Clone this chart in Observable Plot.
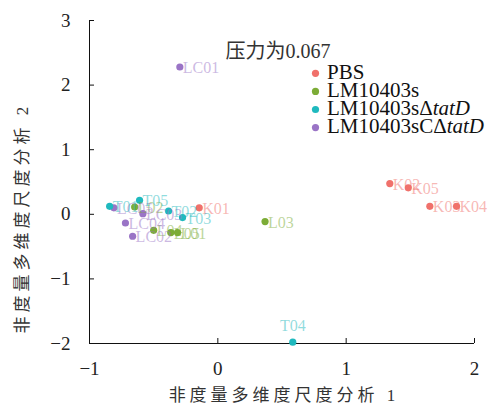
<!DOCTYPE html>
<html><head><meta charset="utf-8">
<script src="https://cdn.jsdelivr.net/npm/d3@7"></script>
<script src="https://cdn.jsdelivr.net/npm/@observablehq/plot@0.6"></script>
<style>body{margin:0;background:#fff} #chart{position:relative;width:495px;height:414px}</style>
</head><body><div id="chart"></div>
<script>
const groups = ["PBS", "LM10403s", "LM10403sΔtatD", "LM10403sCΔtatD"];
const groupColors = ["#F0716B", "#7CAC36", "#1FB9BE", "#9A74C6"];
const sampleLabels = ["K01","K02","K03","K04","K05","L01","L02","L03","L04","L05","LC01","LC02","LC03","LC04","LC05","T01","T02","T03","T04","T05"];
const sampleGroups = ["PBS","PBS","PBS","PBS","PBS","LM10403s","LM10403s","LM10403s","LM10403s","LM10403s","LM10403sCΔtatD","LM10403sCΔtatD","LM10403sCΔtatD","LM10403sCΔtatD","LM10403sCΔtatD","LM10403sΔtatD","LM10403sΔtatD","LM10403sΔtatD","LM10403sΔtatD","LM10403sΔtatD"];
const dim1 = [-0.145, 1.34, 1.652, 1.86, 1.484, -0.314, -0.648, 0.368, -0.50, -0.366, -0.296, -0.664, -0.584, -0.72, -0.81, -0.843, -0.384, -0.275, 0.584, -0.61];
const dim2 = [0.10, 0.475, 0.124, 0.124, 0.41, -0.283, 0.113, -0.113, -0.248, -0.283, 2.28, -0.34, 0.01, -0.135, 0.10, 0.124, 0.051, -0.051, -1.98, 0.217];
const xTicks = [-1, 0, 1, 2];
const yTicks = [-2, -1, 0, 1, 2, 3];
const title = "压力为0.067";
const xTitle = "非度量多维度尺度分析 1";
const yTitle = "非度量多维度尺度分析 2";
const aboveLabels = ["T04"];

const data = sampleLabels.map((s, i) => ({label: s, group: sampleGroups[i], x: dim1[i], y: dim2[i]}));
const font = "'Liberation Serif', 'Noto Sans CJK SC', serif";
const fmt = d => d < 0 ? "\u2212" + Math.abs(d) : String(d);

const svg = Plot.plot({
  width: 495, height: 414,
  marginLeft: 89, marginRight: 21, marginTop: 20, marginBottom: 71,
  style: {fontFamily: font, background: "#fff"},
  x: {domain: [-1, 2]},
  y: {domain: [-2, 3]},
  color: {domain: groups, range: groupColors},
  marks: [
    Plot.ruleY([-2], {stroke: "#111"}),
    Plot.ruleX([-1], {stroke: "#111"}),
    Plot.ruleX(xTicks, {x: d => d, y1: -2, y2: -2, insetTop: -5, stroke: "#111"}),
    Plot.ruleY(yTicks, {y: d => d, x1: -1, x2: -1, insetRight: -5, stroke: "#111"}),
    Plot.axisX({ticks: xTicks, tickSize: 0, tickPadding: 18, fontSize: 19, tickFormat: fmt, label: null, fill: "#222"}),
    Plot.axisY({ticks: yTicks, tickSize: 0, tickPadding: 19, fontSize: 19, tickFormat: fmt, label: null, fill: "#222"}),
    Plot.dot(data, {x: "x", y: "y", fill: "group", r: 3.6}),
    Plot.text(data.filter(d => !aboveLabels.includes(d.label)), {x: "x", y: "y", text: "label", fill: "group", fillOpacity: 0.5, textAnchor: "start", dx: 3, dy: 1, fontSize: 16, fontFamily: font}),
    Plot.text(data.filter(d => aboveLabels.includes(d.label)), {x: "x", y: "y", text: "label", fill: "group", fillOpacity: 0.5, textAnchor: "middle", dy: -16, fontSize: 16, fontFamily: font}),
    Plot.text([title], {text: d => d, frameAnchor: "top-left", dx: 136, dy: 23, textAnchor: "start", fontSize: 20, fill: "#333", fontFamily: font}),
    Plot.text([xTitle], {text: d => d, frameAnchor: "bottom", dy: 57, dx: 2, textAnchor: "middle", fontSize: 17, fill: "#333", fontFamily: font, className: "axtitle"}),
    Plot.text([yTitle], {text: d => d, frameAnchor: "left", dx: -67, dy: 36, rotate: -90, textAnchor: "middle", fontSize: 17, fill: "#333", fontFamily: font, className: "axtitle"})
  ]
});

d3.select(svg).selectAll(".axtitle text").attr("letter-spacing", "4px");

const leg = d3.select(svg).append("g").attr("font-family", font).attr("font-size", 21).attr("fill", "#111").attr("text-anchor", "start");
groups.forEach((g, i) => {
  const cy = 73.3 + i * 18.1;
  leg.append("circle").attr("cx", 315.5).attr("cy", cy).attr("r", 3.6).attr("fill", groupColors[i]);
  const t = leg.append("text").attr("x", 327).attr("y", cy).attr("dy", "0.25em");
  const parts = g.split("Δ");
  if (parts.length > 1) {
    t.append("tspan").text(parts[0] + "Δ");
    t.append("tspan").attr("font-style", "italic").text(parts[1]);
  } else {
    t.append("tspan").text(g);
  }
});

document.getElementById("chart").appendChild(svg);
</script>
</body></html>
